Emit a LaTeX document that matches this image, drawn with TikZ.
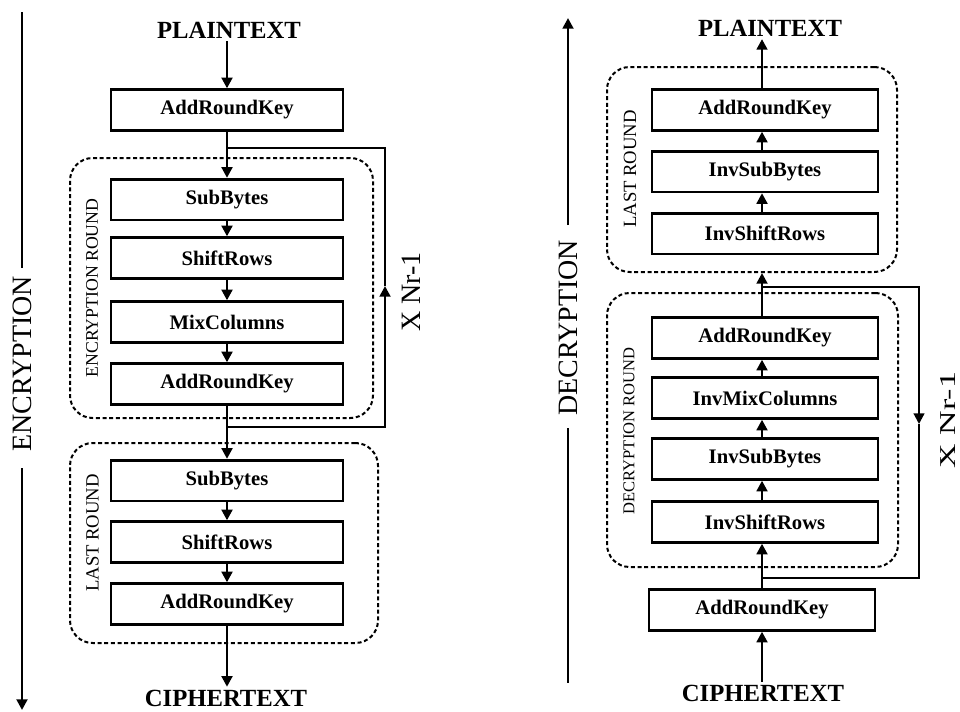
\documentclass[tikz,border=0pt]{standalone}
\usepackage{fontspec}
\setmainfont{Liberation Serif}
\usetikzlibrary{arrows.meta}

\begin{document}
\begin{tikzpicture}[x=0.75pt,y=-0.75pt,
  stage/.style={draw, line width=2pt, minimum height=30.5pt, inner sep=0pt,
    font=\fontsize{15.5}{16}\selectfont\bfseries},
  encstage/.style={stage, minimum width=174pt},
  decstage/.style={stage, minimum width=169.5pt},
  frame/.style={draw, dashed, dash pattern=on 3pt off 2pt, line width=1.5pt,
    rounded corners=17pt, inner sep=0pt},
  io/.style={font=\fontsize{18.5}{19}\selectfont\bfseries, inner sep=2pt},
  roundlbl/.style={rotate=90, inner sep=0pt},
  axislbl/.style={rotate=90, inner sep=0pt, font=\fontsize{21}{21}\selectfont},
  tip/.style={-{Triangle[length=8pt,width=8pt]}},
  flow/.style={line width=2pt, tip},
  link/.style={line width=2pt},
  axisline/.style={line width=2pt}
]
\useasboundingbox (0,0) rectangle (960,711);

% ---------------- Encryption side ----------------
\node[axislbl] (encL) at (22,364) {ENCRYPTION};
\coordinate (encA) at (22,12);
\coordinate (encB) at (22,268);
\coordinate (encC) at (22,468);
\coordinate (encD) at (22,710);
\draw[axisline] (encA) -- (encB);
\draw[axisline, tip] (encC) -- (encD);

\node[io] (ptL) at (229,30) {PLAINTEXT};
\node[encstage] (ark1) at (227,110) {AddRoundKey};

\node[frame, minimum width=227.25pt, minimum height=195pt] (encRound) at (221.5,288) {};
\node[roundlbl, font=\fontsize{13.3}{14}\selectfont] (encRoundL) at (92,288) {ENCRYPTION ROUND};
\node[encstage] (sb1) at (227,199.5) {SubBytes};
\node[encstage] (sr1) at (227,258) {ShiftRows};
\node[encstage] (mc)  at (227,322) {MixColumns};
\node[encstage] (ark2) at (227,384) {AddRoundKey};

\node[frame, minimum width=231pt, minimum height=150pt] (lastL) at (224,543) {};
\node[roundlbl, font=\fontsize{14}{14}\selectfont] (lastLL) at (92.5,533) {LAST ROUND};
\node[encstage] (sb2) at (227,480.5) {SubBytes};
\node[encstage] (sr2) at (227,542) {ShiftRows};
\node[encstage] (ark3) at (227,604) {AddRoundKey};

\node[io] (ctL) at (226,698) {CIPHERTEXT};

\draw[flow] (ptL.south -| ark1.north) -- (ark1.north);
\draw[flow] (ark1.south) -- (sb1.north);
\draw[flow] (sb1.south) -- (sr1.north);
\draw[flow] (sr1.south) -- (mc.north);
\draw[flow] (mc.south) -- (ark2.north);
\draw[flow] (ark2.south) -- (sb2.north);
\draw[flow] (sb2.south) -- (sr2.north);
\draw[flow] (sr2.south) -- (ark3.north);
\draw[flow] (ark3.south) -- (ctL.north -| ark3.south);

% repeat loop of the encryption round
\coordinate (encJTop) at (227,148);
\coordinate (encJBot) at (227,427);
\coordinate (encLoopMid) at (385,286);
\draw[link, tip] (encJBot) -| (encLoopMid);
\draw[link] (encLoopMid) |- (encJTop);
\node[axislbl] (encRep) at (411,292) {X Nr-1};

% ---------------- Decryption side ----------------
\node[axislbl] (decL) at (568,328) {DECRYPTION};
\coordinate (decA) at (568,18);
\coordinate (decB) at (568,225);
\coordinate (decC) at (568,428);
\coordinate (decD) at (568,683);
\draw[axisline, tip] (decB) -- (decA);
\draw[axisline] (decC) -- (decD);

\node[io] (ptR) at (770,28) {PLAINTEXT};

\node[frame, minimum width=217.5pt, minimum height=153.75pt] (lastR) at (752,169.5) {};
\node[roundlbl, font=\fontsize{14}{14}\selectfont] (lastRL) at (630,169) {LAST ROUND};
\node[decstage] (ark4) at (765,110) {AddRoundKey};
\node[decstage] (isb1) at (765,171.5) {InvSubBytes};
\node[decstage] (isr1) at (765,233.5) {InvShiftRows};

\node[frame, minimum width=218.25pt, minimum height=205.5pt] (decRound) at (752.5,430) {};
\node[roundlbl, font=\fontsize{12.4}{13}\selectfont] (decRoundL) at (629,431) {DECRYPTION ROUND};
\node[decstage] (ark5) at (765,338) {AddRoundKey};
\node[decstage] (imc)  at (765,398) {InvMixColumns};
\node[decstage] (isb2) at (765,459) {InvSubBytes};
\node[decstage] (isr2) at (765,522) {InvShiftRows};

\node[decstage] (ark6) at (762,610) {AddRoundKey};
\node[io] (ctR) at (763,693) {CIPHERTEXT};

\draw[flow] (ctR.north -| ark6.south) -- (ark6.south);
\draw[flow] (ark6.north) -- (ark6.north |- isr2.south);
\draw[flow] (isr2.north -| ark6.north) -- (isb2.south -| ark6.north);
\draw[flow] (isb2.north -| ark6.north) -- (imc.south -| ark6.north);
\draw[flow] (imc.north -| ark6.north) -- (ark5.south -| ark6.north);
\draw[flow] (ark5.north -| ark6.north) -- (lastR.south -| ark6.north);
\draw[flow] (isr1.north -| ark6.north) -- (isb1.south -| ark6.north);
\draw[flow] (isb1.north -| ark6.north) -- (ark4.south -| ark6.north);
\draw[flow] (ark4.north -| ark6.north) -- (ptR.south -| ark6.north);

% repeat loop of the decryption round
\coordinate (decJTop) at (762,287);
\coordinate (decJBot) at (762,578);
\coordinate (decLoopMid) at (919,424);
\draw[line width=1.6pt, tip] (decJTop) -| (decLoopMid);
\draw[line width=1.6pt] (decLoopMid) |- (decJBot);
\node[axislbl, font=\fontsize{17}{17}\selectfont] (decRep) at (948,420) {\scalebox{1.5}[1]{X Nr-1}};

\end{tikzpicture}
\end{document}
